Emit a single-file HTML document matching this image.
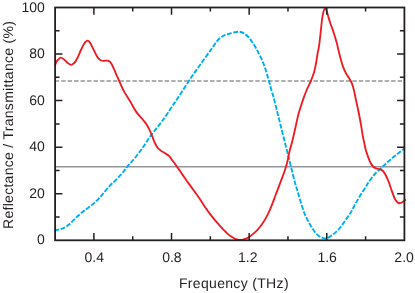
<!DOCTYPE html>
<html><head><meta charset="utf-8"><title>Reflectance / Transmittance</title>
<style>html,body{margin:0;padding:0;background:#fff;}body{width:415px;height:293px;overflow:hidden;}svg{display:block;will-change:transform;}text{font-family:"Liberation Sans",sans-serif;fill:#231f20;text-rendering:geometricPrecision;}</style></head><body>
<svg width="415" height="293" viewBox="0 0 415 293">
<rect x="0" y="0" width="415" height="293" fill="#ffffff"/>
<line x1="55.10" y1="81.00" x2="404.40" y2="81.00" stroke="#939598" stroke-width="1.50" stroke-dasharray="4.48 1.99" stroke-dashoffset="0.40"/>
<line x1="55.10" y1="166.80" x2="404.40" y2="166.80" stroke="#939598" stroke-width="1.50"/>
<path d="M54.30 230.50C54.78 230.40 56.23 230.12 57.20 229.90C58.17 229.68 58.88 229.58 60.10 229.20C61.32 228.82 63.05 228.33 64.50 227.60C65.95 226.87 67.37 225.97 68.80 224.80C70.23 223.63 71.65 222.02 73.10 220.60C74.55 219.18 76.05 217.63 77.50 216.30C78.95 214.97 80.37 213.77 81.80 212.60C83.23 211.43 84.65 210.38 86.10 209.30C87.55 208.22 89.05 207.22 90.50 206.10C91.95 204.98 93.35 203.93 94.80 202.60C96.25 201.27 97.75 199.67 99.20 198.10C100.65 196.53 101.78 195.20 103.50 193.20C105.22 191.20 107.55 188.20 109.50 186.10C111.45 184.00 113.28 182.52 115.20 180.60C117.12 178.68 119.43 176.33 121.00 174.60C122.57 172.87 123.52 171.57 124.60 170.20C125.68 168.83 126.38 167.75 127.50 166.40C128.62 165.05 129.93 163.67 131.30 162.10C132.67 160.53 134.22 158.83 135.70 157.00C137.18 155.17 138.83 152.93 140.20 151.10C141.57 149.27 142.68 147.78 143.90 146.00C145.12 144.22 146.25 142.25 147.50 140.40C148.75 138.55 150.08 136.68 151.40 134.90C152.72 133.12 154.08 131.38 155.40 129.70C156.72 128.02 158.05 126.42 159.30 124.80C160.55 123.18 161.92 121.33 162.90 120.00C163.88 118.67 164.08 118.43 165.20 116.80C166.32 115.17 168.12 112.43 169.60 110.20C171.08 107.97 172.87 105.22 174.10 103.40C175.33 101.58 174.32 103.37 177.00 99.30C179.68 95.23 186.97 83.87 190.20 79.00C193.43 74.13 194.35 73.02 196.40 70.10C198.45 67.18 200.47 64.35 202.50 61.50C204.53 58.65 207.15 55.03 208.60 53.00C210.05 50.97 210.33 50.53 211.20 49.30C212.07 48.07 212.97 46.78 213.80 45.60C214.63 44.42 215.43 43.22 216.20 42.20C216.97 41.18 217.67 40.28 218.40 39.50C219.13 38.72 219.83 38.08 220.60 37.50C221.37 36.92 222.10 36.45 223.00 36.00C223.90 35.55 224.90 35.18 226.00 34.80C227.10 34.42 228.15 34.12 229.60 33.70C231.05 33.28 233.02 32.63 234.70 32.30C236.38 31.97 238.15 31.52 239.70 31.70C241.25 31.88 242.55 32.52 244.00 33.40C245.45 34.28 246.95 35.43 248.40 37.00C249.85 38.57 251.27 40.63 252.70 42.80C254.13 44.97 255.67 47.60 257.00 50.00C258.33 52.40 259.43 54.43 260.70 57.20C261.97 59.97 263.28 62.82 264.60 66.60C265.92 70.38 267.42 75.80 268.60 79.90C269.78 84.00 270.88 88.35 271.70 91.20C272.52 94.05 272.68 93.98 273.50 97.00C274.32 100.02 275.40 104.52 276.60 109.30C277.80 114.08 279.33 120.23 280.70 125.70C282.07 131.17 283.68 137.63 284.80 142.10C285.92 146.57 286.72 149.82 287.40 152.50C288.08 155.18 288.15 155.20 288.90 158.20C289.65 161.20 290.88 166.42 291.90 170.50C292.92 174.58 294.12 179.45 295.00 182.70C295.88 185.95 296.33 187.08 297.20 190.00C298.07 192.92 299.02 196.37 300.20 200.20C301.38 204.03 303.25 210.07 304.30 213.00C305.35 215.93 305.73 216.20 306.50 217.80C307.27 219.40 308.02 220.98 308.90 222.60C309.78 224.22 310.77 225.88 311.80 227.50C312.83 229.12 313.98 230.93 315.10 232.30C316.22 233.67 317.37 234.82 318.50 235.70C319.63 236.58 320.85 237.15 321.90 237.60C322.95 238.05 324.00 238.28 324.80 238.40C325.60 238.52 325.90 238.55 326.70 238.30C327.50 238.05 328.48 237.58 329.60 236.90C330.72 236.22 332.12 235.22 333.40 234.20C334.68 233.18 336.08 232.00 337.30 230.80C338.52 229.60 339.67 228.28 340.70 227.00C341.73 225.72 342.55 224.47 343.50 223.10C344.45 221.73 345.52 220.08 346.40 218.80C347.28 217.52 348.07 216.43 348.80 215.40C349.53 214.37 350.00 213.97 350.80 212.60C351.60 211.23 352.65 208.98 353.60 207.20C354.55 205.42 355.45 203.75 356.50 201.90C357.55 200.05 358.77 197.95 359.90 196.10C361.03 194.25 362.18 192.57 363.30 190.80C364.42 189.03 365.77 186.87 366.60 185.50C367.43 184.13 367.15 184.25 368.30 182.60C369.45 180.95 372.15 177.30 373.50 175.60C374.85 173.90 375.30 173.47 376.40 172.40C377.50 171.33 378.83 170.35 380.10 169.20C381.37 168.05 382.70 166.73 384.00 165.50C385.30 164.27 386.55 163.02 387.90 161.80C389.25 160.58 390.75 159.32 392.10 158.20C393.45 157.08 394.60 156.22 396.00 155.10C397.40 153.98 399.03 152.63 400.50 151.50C401.97 150.37 404.08 148.83 404.80 148.30" fill="none" stroke="#00aeef" stroke-width="1.90" stroke-dasharray="4.85 1.62" stroke-dashoffset="0.00"/>
<path d="M54.70 65.40C54.83 65.17 55.08 64.78 55.50 64.00C55.92 63.22 56.35 61.77 57.20 60.70C58.05 59.63 59.42 57.77 60.60 57.60C61.78 57.43 63.17 58.85 64.30 59.70C65.43 60.55 66.27 61.85 67.40 62.70C68.53 63.55 69.90 64.80 71.10 64.80C72.30 64.80 73.52 63.90 74.60 62.70C75.68 61.50 76.58 59.63 77.60 57.60C78.62 55.57 79.70 52.67 80.70 50.50C81.70 48.33 82.78 46.05 83.60 44.60C84.42 43.15 84.97 42.47 85.60 41.80C86.23 41.13 86.80 40.63 87.40 40.60C88.00 40.57 88.67 41.08 89.20 41.60C89.73 42.12 90.10 42.82 90.60 43.70C91.10 44.58 91.50 45.48 92.20 46.90C92.90 48.32 93.97 50.55 94.80 52.20C95.63 53.85 96.43 55.60 97.20 56.80C97.97 58.00 98.72 58.78 99.40 59.40C100.08 60.02 100.67 60.27 101.30 60.50C101.93 60.73 102.37 60.77 103.20 60.80C104.03 60.83 105.42 60.68 106.30 60.70C107.18 60.72 107.72 60.50 108.50 60.90C109.28 61.30 110.10 61.77 111.00 63.10C111.90 64.43 112.95 66.85 113.90 68.90C114.85 70.95 115.75 73.23 116.70 75.40C117.65 77.57 118.75 79.98 119.60 81.90C120.45 83.82 121.02 85.23 121.80 86.90C122.58 88.57 122.85 89.38 124.30 91.90C125.75 94.42 128.45 98.58 130.50 102.00C132.55 105.42 134.50 109.40 136.60 112.40C138.70 115.40 141.53 118.13 143.10 120.00C144.67 121.87 145.03 122.15 146.00 123.60C146.97 125.05 147.93 126.77 148.90 128.70C149.87 130.63 150.95 133.15 151.80 135.20C152.65 137.25 153.15 139.08 154.00 141.00C154.85 142.92 155.82 145.13 156.90 146.70C157.98 148.27 159.18 149.35 160.50 150.40C161.82 151.45 163.35 152.05 164.80 153.00C166.25 153.95 167.97 154.92 169.20 156.10C170.43 157.28 170.85 158.27 172.20 160.10C173.55 161.93 175.62 164.72 177.30 167.10C178.98 169.48 180.68 172.05 182.30 174.40C183.92 176.75 185.55 179.17 187.00 181.20C188.45 183.23 189.65 184.75 191.00 186.60C192.35 188.45 193.57 190.13 195.10 192.30C196.63 194.47 198.52 197.10 200.20 199.60C201.88 202.10 203.52 204.83 205.20 207.30C206.88 209.77 208.52 212.08 210.30 214.40C212.08 216.72 214.33 219.33 215.90 221.20C217.47 223.07 218.42 224.17 219.70 225.60C220.98 227.03 222.32 228.47 223.60 229.80C224.88 231.13 226.12 232.47 227.40 233.60C228.68 234.73 230.02 235.72 231.30 236.60C232.58 237.48 233.82 238.37 235.10 238.90C236.38 239.43 237.72 239.68 239.00 239.80C240.28 239.92 241.52 239.85 242.80 239.60C244.08 239.35 245.65 238.72 246.70 238.30C247.75 237.88 247.98 237.88 249.10 237.10C250.22 236.32 252.00 234.82 253.40 233.60C254.80 232.38 256.13 231.27 257.50 229.80C258.87 228.33 260.23 226.70 261.60 224.80C262.97 222.90 264.42 220.67 265.70 218.40C266.98 216.13 268.17 213.70 269.30 211.20C270.43 208.70 271.45 206.10 272.50 203.40C273.55 200.70 274.23 198.62 275.60 195.00C276.97 191.38 279.17 185.78 280.70 181.70C282.23 177.62 283.63 174.08 284.80 170.50C285.97 166.92 286.93 163.28 287.70 160.20C288.47 157.12 288.58 155.37 289.40 152.00C290.22 148.63 291.60 144.05 292.60 140.00C293.60 135.95 294.48 131.78 295.40 127.70C296.32 123.62 297.22 118.98 298.10 115.50C298.98 112.02 299.82 109.62 300.70 106.80C301.58 103.98 302.43 101.32 303.40 98.60C304.37 95.88 305.25 93.45 306.50 90.50C307.75 87.55 309.62 84.03 310.90 80.90C312.18 77.77 313.32 74.77 314.20 71.70C315.08 68.63 315.60 65.73 316.20 62.50C316.80 59.27 317.35 54.87 317.80 52.30C318.25 49.73 318.47 50.02 318.90 47.10C319.33 44.18 319.93 38.90 320.40 34.80C320.87 30.70 321.25 26.08 321.70 22.50C322.15 18.92 322.58 15.62 323.10 13.30C323.62 10.98 324.25 9.12 324.80 8.60C325.35 8.08 325.88 9.08 326.40 10.20C326.92 11.32 327.28 13.25 327.90 15.30C328.52 17.35 329.13 19.60 330.10 22.50C331.07 25.40 332.58 29.28 333.70 32.70C334.82 36.12 336.02 40.12 336.80 43.00C337.58 45.88 337.78 47.47 338.40 50.00C339.02 52.53 339.68 55.30 340.50 58.20C341.32 61.10 342.32 64.75 343.30 67.40C344.28 70.05 345.38 72.23 346.40 74.10C347.42 75.97 348.45 76.98 349.40 78.60C350.35 80.22 351.32 81.75 352.10 83.80C352.88 85.85 353.45 88.18 354.10 90.90C354.75 93.62 355.35 97.03 356.00 100.10C356.65 103.17 357.23 105.57 358.00 109.30C358.77 113.03 359.83 118.25 360.60 122.50C361.37 126.75 361.95 131.22 362.60 134.80C363.25 138.38 363.97 141.47 364.50 144.00C365.03 146.53 365.27 148.03 365.80 150.00C366.33 151.97 366.98 153.80 367.70 155.80C368.42 157.80 369.22 160.22 370.10 162.00C370.98 163.78 371.95 165.42 373.00 166.50C374.05 167.58 375.27 168.05 376.40 168.50C377.53 168.95 378.75 168.82 379.80 169.20C380.85 169.58 381.82 169.98 382.70 170.80C383.58 171.62 384.38 172.90 385.10 174.10C385.82 175.30 386.35 176.57 387.00 178.00C387.65 179.43 388.20 180.55 389.00 182.70C389.80 184.85 390.85 188.27 391.80 190.90C392.75 193.53 393.77 196.62 394.70 198.50C395.63 200.38 396.48 201.42 397.40 202.20C398.32 202.98 399.22 203.30 400.20 203.20C401.18 203.10 402.37 202.22 403.30 201.60C404.23 200.98 405.38 199.85 405.80 199.50" fill="none" stroke="#ed1c24" stroke-width="1.85" stroke-linejoin="round"/>
<path d="M93.91 240.30v-7.30M93.91 7.50v7.30M132.72 240.30v-4.10M132.72 7.50v4.10M171.53 240.30v-7.30M171.53 7.50v7.30M210.34 240.30v-4.10M210.34 7.50v4.10M249.16 240.30v-7.30M249.16 7.50v7.30M287.97 240.30v-4.10M287.97 7.50v4.10M326.78 240.30v-7.30M326.78 7.50v7.30M365.59 240.30v-4.10M365.59 7.50v4.10M55.10 217.02h4.50M404.40 217.02h-4.50M55.10 193.74h7.30M404.40 193.74h-7.30M55.10 170.46h4.50M404.40 170.46h-4.50M55.10 147.18h7.30M404.40 147.18h-7.30M55.10 123.90h4.50M404.40 123.90h-4.50M55.10 100.62h7.30M404.40 100.62h-7.30M55.10 77.34h4.50M404.40 77.34h-4.50M55.10 54.06h7.30M404.40 54.06h-7.30M55.10 30.78h4.50M404.40 30.78h-4.50" fill="none" stroke="#231f20" stroke-width="1.50"/>
<rect x="55.10" y="7.50" width="349.30" height="232.80" fill="none" stroke="#231f20" stroke-width="1.80"/>
<text x="94.31" y="262.00" font-size="14.00" text-anchor="middle">0.4</text>
<text x="171.93" y="262.00" font-size="14.00" text-anchor="middle">0.8</text>
<text x="247.76" y="262.00" font-size="14.00" text-anchor="middle">1.2</text>
<text x="327.18" y="262.00" font-size="14.00" text-anchor="middle">1.6</text>
<text x="404.10" y="262.00" font-size="14.00" text-anchor="middle">2.0</text>
<text x="44.90" y="244.40" font-size="14.00" text-anchor="end">0</text>
<text x="44.90" y="197.84" font-size="14.00" text-anchor="end">20</text>
<text x="44.90" y="151.28" font-size="14.00" text-anchor="end">40</text>
<text x="44.90" y="104.72" font-size="14.00" text-anchor="end">60</text>
<text x="44.90" y="58.16" font-size="14.00" text-anchor="end">80</text>
<text x="44.90" y="12.40" font-size="14.00" text-anchor="end">100</text>
<text x="233.90" y="288.00" font-size="14.00" text-anchor="middle" letter-spacing="0.330">Frequency (THz)</text>
<text transform="translate(12.60 124.90) rotate(-90)" font-size="14.00" text-anchor="middle" letter-spacing="0.290">Reflectance / Transmittance (%)</text>
</svg></body></html>
